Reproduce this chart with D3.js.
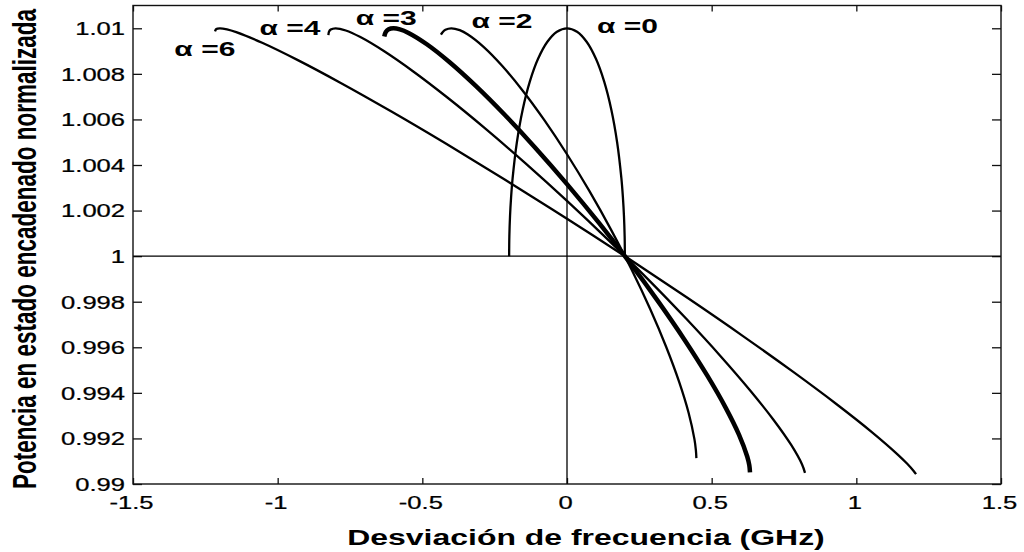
<!DOCTYPE html>
<html>
<head>
<meta charset="utf-8">
<script src="https://cdn.jsdelivr.net/npm/d3@7"></script>
<style>
  html, body { margin: 0; padding: 0; background: #fff; }
  svg { display: block; }
  text { font-family: "Liberation Sans", Arial, sans-serif; fill: #000; }
</style>
</head>
<body>
<svg id="chart" width="1024" height="552"></svg>
<script>
// ---- data ----
const xTicks = [-1.5, -1, -0.5, 0, 0.5, 1, 1.5];
const xTickLabels = ["-1.5", "-1", "-0.5", "0", "0.5", "1", "1.5"];
const yTicks = [0.99, 0.992, 0.994, 0.996, 0.998, 1, 1.002, 1.004, 1.006, 1.008, 1.01];
const yTickLabels = ["0.99", "0.992", "0.994", "0.996", "0.998", "1", "1.002", "1.004", "1.006", "1.008", "1.01"];

const alphaValues = [0, 2, 3, 4, 6];
const alphaLabels = ["α =0", "α =2", "α =3", "α =4", "α =6"];

// alpha = 0
const freqA0 = [-0.2, -0.19924, -0.19696, -0.19319, -0.18794, -0.17321, -0.15321, -0.12856, -0.1, -0.0684, -0.03473, 0,
                0.03473, 0.0684, 0.1, 0.12856, 0.15321, 0.17321, 0.18794, 0.19319, 0.19696, 0.19924, 0.2];
const powA0 = [1.0, 1.000872, 1.001737, 1.002588, 1.00342, 1.005, 1.006428, 1.00766, 1.00866, 1.009397, 1.009848, 1.01,
               1.009848, 1.009397, 1.00866, 1.00766, 1.006428, 1.005, 1.00342, 1.002588, 1.001737, 1.000872, 1.0];
// alpha = 2
const freqA2 = [-0.43575, -0.42989, -0.42024, -0.4, -0.37075, -0.34258, -0.28746, -0.22361, -0.15296, -0.07766, 0,
                0.07766, 0.15296, 0.22361, 0.28746, 0.34258, 0.3873, 0.42024, 0.44041, 0.44551, 0.44715];
const powA2 = [1.009721, 1.00983, 1.009934, 1.01, 1.009916, 1.009726, 1.009175, 1.008345, 1.007262, 1.005957, 1.004472,
               1.002851, 1.001143, 0.999401, 0.997677, 0.996023, 0.99449, 0.993125, 0.991968, 0.99148, 0.991135];
// alpha = 3
const freqA3 = [-0.63159, -0.6263, -0.61625, -0.6, -0.57778, -0.54772, -0.48449, -0.40654, -0.31623, -0.21631, -0.10982, 0,
                0.10982, 0.21631, 0.31623, 0.40654, 0.48449, 0.54772, 0.59431, 0.62285, 0.63005, 0.63246];
const powA3 = [1.009639, 1.009835, 1.009955, 1.01, 1.009953, 1.009797, 1.0093, 1.008521, 1.007482, 1.006216, 1.004762, 1.003162,
               1.001467, 0.999727, 0.997995, 0.996324, 0.994765, 0.993365, 0.992167, 0.991206, 0.990825, 0.990513];
// alpha = 4
const freqA4 = [-0.82462, -0.82261, -0.8166, -0.8, -0.76457, -0.71414, -0.63169, -0.53006, -0.41231, -0.28204, -0.14319, 0,
                0.14319, 0.28204, 0.41231, 0.53006, 0.63169, 0.71414, 0.77489, 0.81209, 0.82261];
const powA4 = [1.009701, 1.009847, 1.009945, 1.01, 1.009904, 1.009615, 1.008991, 1.008094, 1.006951, 1.005597, 1.004073, 1.002425,
               1.000704, 0.998961, 0.99725, 0.995622, 0.994127, 0.992811, 0.991713, 0.990867, 0.990491];
// alpha = 6
const freqA6 = [-1.21655, -1.21192, -1.2, -1.17511, -1.14318, -1.05356, -0.93194, -0.78198, -0.60828, -0.41609, -0.21125, 0,
                0.21125, 0.41609, 0.60828, 0.78198, 0.93194, 1.05356, 1.14318, 1.17511, 1.19807, 1.20642];
const powA6 = [1.009864, 1.00997, 1.01, 1.009953, 1.009831, 1.009365, 1.008613, 1.0076, 1.006356, 1.004919, 1.003332, 1.001644,
               0.999906, 0.998171, 0.996492, 0.994919, 0.993501, 0.99228, 0.991293, 0.990898, 0.990571, 0.99043];

const xTitle = "Desviación de frecuencia (GHz)";
const yTitle = "Potencia en estado encadenado normalizada";

// ---- layout ----
const L = 133, R = 1001, T = 5.5, B = 484;
const SX = 1.46; // horizontal stretch of the lettering in the reference

const svg = d3.select("#chart");
const x = d3.scaleLinear().domain([-1.5, 1.5]).range([L, R]);
const y = d3.scaleLinear().domain([0.99, 1.011]).range([B, T]);

svg.append("defs").append("clipPath").attr("id", "clip")
  .append("rect").attr("x", L).attr("y", T).attr("width", R - L).attr("height", B - T);

// axes (ticks inward on all four sides)
const fmtX = (d) => xTickLabels[xTicks.indexOf(d)];
const fmtY = (d) => yTickLabels[yTicks.indexOf(d)];

const gB = svg.append("g").attr("transform", `translate(0,${B})`)
  .call(d3.axisBottom(x).tickValues(xTicks).tickFormat(fmtX).tickSizeInner(-6).tickSizeOuter(0));
const gT = svg.append("g").attr("transform", `translate(0,${T})`)
  .call(d3.axisTop(x).tickValues(xTicks).tickFormat("").tickSizeInner(-6).tickSizeOuter(0));
const gLft = svg.append("g").attr("transform", `translate(${L},0)`)
  .call(d3.axisLeft(y).tickValues(yTicks).tickFormat(fmtY).tickSizeInner(-9).tickSizeOuter(0));
const gRt = svg.append("g").attr("transform", `translate(${R},0)`)
  .call(d3.axisRight(y).tickValues(yTicks).tickFormat("").tickSizeInner(-9).tickSizeOuter(0));

[gB, gT, gLft, gRt].forEach(g => {
  g.select(".domain").remove();
  g.selectAll(".tick line").attr("stroke", "#111").attr("stroke-width", 1.3);
});
gB.selectAll(".tick text")
  .attr("x", null).attr("y", null).attr("dy", null)
  .attr("transform", "translate(-2,25) scale(" + SX + ",1)")
  .attr("font-size", 17.5).attr("text-anchor", "middle").attr("fill", "#000")
  .attr("stroke", "#000").attr("stroke-width", 0.25);
gLft.selectAll(".tick text")
  .attr("x", null).attr("y", null).attr("dy", null)
  .attr("transform", "translate(-8,6.3) scale(" + SX + ",1)")
  .attr("font-size", 17.5).attr("text-anchor", "end").attr("fill", "#000")
  .attr("stroke", "#000").attr("stroke-width", 0.25);
gB.attr("font-family", null); gLft.attr("font-family", null);

// zero lines
const plot = svg.append("g").attr("clip-path", "url(#clip)");
plot.append("line").attr("x1", x(0)).attr("x2", x(0)).attr("y1", T).attr("y2", B)
  .attr("stroke", "#000").attr("stroke-width", 1.3);
plot.append("line").attr("x1", L).attr("x2", R).attr("y1", y(1)).attr("y2", y(1))
  .attr("stroke", "#000").attr("stroke-width", 1.3);

// curves
const series = [
  { a: 0, xs: freqA0, ys: powA0 },
  { a: 2, xs: freqA2, ys: powA2 },
  { a: 3, xs: freqA3, ys: powA3 },
  { a: 4, xs: freqA4, ys: powA4 },
  { a: 6, xs: freqA6, ys: powA6 }
];
const line = d3.line().x(d => x(d[0])).y(d => y(d[1])).curve(d3.curveCatmullRom.alpha(0.5));
series.forEach(s => {
  const pts = s.xs.map((v, i) => [v, s.ys[i]]);
  plot.append("path").datum(pts).attr("d", line)
    .attr("fill", "none").attr("stroke", "#000")
    .attr("stroke-width", s.a === 3 ? 4.5 : 2.3)
    .attr("stroke-linejoin", "round").attr("stroke-linecap", "butt");
});

// box
svg.append("rect").attr("x", L).attr("y", T).attr("width", R - L).attr("height", B - T)
  .attr("fill", "none").attr("stroke", "#111").attr("stroke-width", 1.4);

// curve labels (anchor: left edge / baseline, in data units)
const labelAnchor = { 0: [0.104, 1.00979], 2: [-0.33, 1.01], 3: [-0.73, 1.01014], 4: [-1.063, 1.0097], 6: [-1.357, 1.00878] };
alphaValues.forEach((a, i) => {
  const p = labelAnchor[a];
  svg.append("text")
    .attr("transform", `translate(${x(p[0])},${y(p[1])}) scale(1.5,1)`)
    .attr("font-size", 20).attr("font-weight", "bold")
    .text(alphaLabels[i]);
});

// axis titles
svg.append("text")
  .attr("transform", `translate(586,545) scale(1.42,1)`)
  .attr("text-anchor", "middle").attr("font-size", 22.5).attr("font-weight", "bold")
  .text(xTitle);
svg.append("text")
  .attr("transform", `translate(36,249) rotate(-90) scale(1,1.5)`)
  .attr("text-anchor", "middle").attr("font-size", 22.5).attr("font-weight", "bold")
  .text(yTitle);
</script>
</body>
</html>
